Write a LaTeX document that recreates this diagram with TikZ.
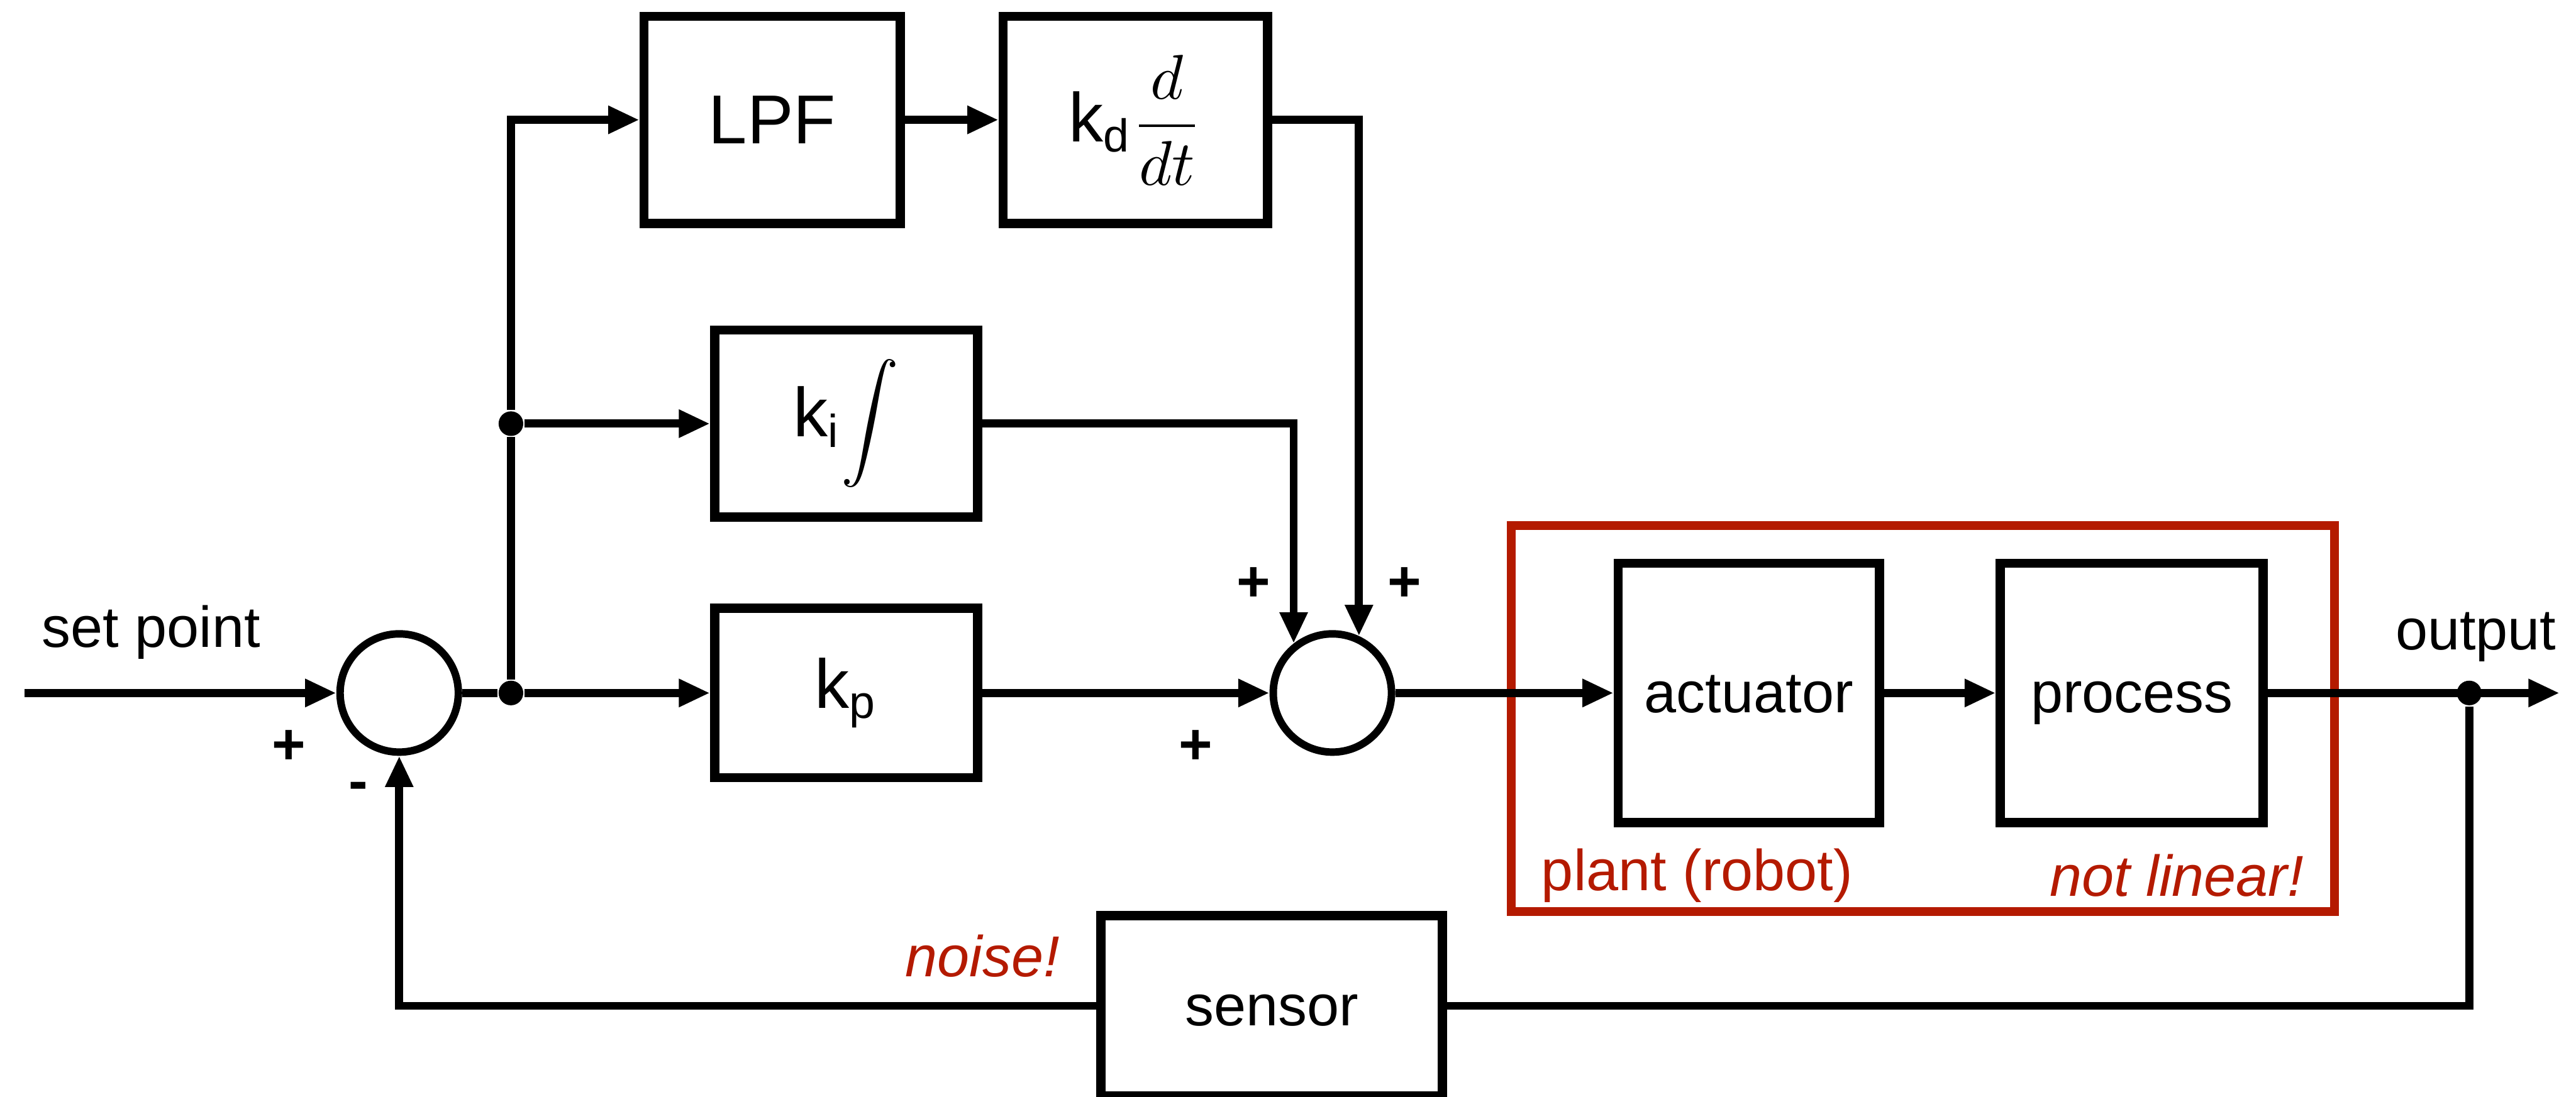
\documentclass[tikz,border=0pt]{standalone}
\usepackage{fontspec}
\setmainfont{Liberation Sans}
\usepackage{tikz}
\usetikzlibrary{positioning}
\usetikzlibrary{calc,arrows.meta}
\definecolor{plant-red}{HTML}{B41A00}

\begin{document}
\begin{tikzpicture}[
    >={Triangle[length=0.19cm,width=0.16cm]},
    font=\fontsize{10}{12}\selectfont
  ]

  \tikzset{
    block/.style={draw, line width=1.6pt, inner sep=0pt, minimum width=1.6cm, minimum height=1.26cm, font=\fontsize{12}{14}\selectfont},
    plainblock/.style={block, font=\fontsize{10}{12}\selectfont, text height=1.6ex, text depth=0.3ex},
    sumnode/.style={draw, circle, line width=1.3pt, inner sep=0pt, minimum size=0.72cm},
    junction/.style={circle, fill, inner sep=0pt, minimum size=0.15cm},
    signlabel/.style={font=\fontsize{10}{12}\selectfont\bfseries},
    remark/.style={text=plant-red, font=\fontsize{10}{12}\selectfont\itshape},
    wire/.style={line width=1.4pt}
  }

  \useasboundingbox (0,0) rectangle (15.68,6.68);

  % Summing points and branch points
  \node (sum1)   [sumnode] at (2.43,2.46) {};
  \node (sum2)   [sumnode] at (8.11,2.46) {};
  \node (split1) [junction] at (3.11,2.46) {};
  \node (split2) [junction] at (3.11,4.10) {};
  \node (tap)    [junction] at (15.03,2.46) {};
  \coordinate (in)  at (0.15,2.46);
  \coordinate (out) at (15.58,2.46);

  % PID branches
  \node (lpf) [block, minimum width=1.56cm] at (4.70,5.95) {LPF};
  \node (kd)  [block, minimum width=1.61cm, right=0.57cm of lpf] {k\textsubscript{d}{\fontsize{10.5}{12}\selectfont$\displaystyle\frac{d}{dt}$}};
  \node (ki)  [block, minimum height=1.14cm] at (5.15,4.10) {k\textsubscript{i}{\fontsize{9}{10}\selectfont$\displaystyle\int$}};
  \node (kp)  [block, minimum height=1.03cm] at (5.15,2.46) {k\textsubscript{p}};

  % Plant and sensor
  \node (plant)  [draw=plant-red, line width=1.5pt, minimum width=5.01cm, minimum height=2.35cm] at (11.705,2.305) {};
  \node (act)    [plainblock, minimum width=1.59cm, minimum height=1.58cm] at (10.645,2.46) {actuator};
  \node (proc)   [plainblock, minimum height=1.58cm, right=0.68cm of act] {process};
  \node (sensor) [plainblock, minimum width=2.08cm, minimum height=1.10cm] at (7.74,0.555) {sensor};

  % Labels
  \node (setpt)    at (0.92,2.83) {set point};
  \node (outlbl)   at (15.07,2.80) {output};
  \node (plantlbl) [text=plant-red] at (10.33,1.35) {plant (robot)};
  \node (nonlin)   [remark] at (13.25,1.35) {not linear!};
  \node (noise)    [remark] at (5.98,0.86) {noise!};
  \node (p1) [signlabel] at (1.76,2.13) {+};
  \node (m1) [signlabel] at (2.18,1.86) {-};
  \node (p2) [signlabel] at (7.28,2.13) {+};
  \node (p3) [signlabel] at (7.63,3.12) {+};
  \node (p4) [signlabel] at (8.55,3.12) {+};

  % Connections
  \draw[->, wire] (in) -- (sum1);
  \draw[wire] (sum1) -- (split1);
  \draw[->, wire] (split1) -- (kp);
  \draw[wire] (split1) -- (split2);
  \draw[->, wire] (split2) -- (ki);
  \draw[->, wire] (split2) |- (lpf);
  \draw[->, wire] (lpf) -- (kd);
  \draw[->, wire] (kd) -| (sum2.65);
  \draw[->, wire] (ki) -| (sum2.128);
  \draw[->, wire] (kp) -- (sum2);
  \draw[->, wire] (sum2) -- (act);
  \draw[->, wire] (act) -- (proc);
  \draw[->, wire] (proc) -- (out);
  \draw[wire] (tap) |- (sensor);
  \draw[->, wire] (sensor) -| (sum1);

\end{tikzpicture}
\end{document}
